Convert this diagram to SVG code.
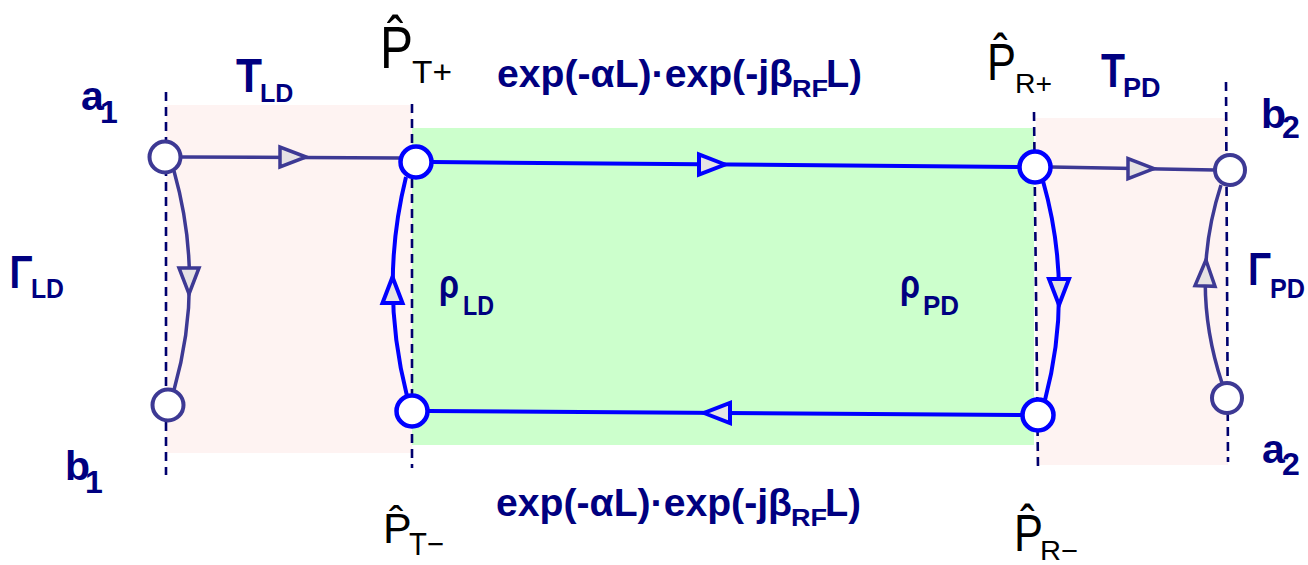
<svg xmlns="http://www.w3.org/2000/svg" width="1308" height="565" viewBox="0 0 1308 565">
<style>
.bg-pink{fill:#fef3f2}
.bg-green{fill:#ccffcc}
.guide{stroke:#00006e;stroke-width:2.6;stroke-dasharray:9 6;fill:none}
.c-dark{stroke:#3d3994;stroke-width:3.5;fill:none}
.c-blue{stroke:#0000ff;stroke-width:4;fill:none}
.n-dark{fill:#fff;stroke:#3d3994;stroke-width:4}
.n-blue{fill:#fff;stroke:#0000ff;stroke-width:4.5}
.a-dark{fill:#e6e2e4;stroke:#3d3994;stroke-width:3.5}
.a-blue{fill:#e6e2e4;stroke:#0000ff;stroke-width:4}
.lbl{font-family:"Liberation Sans",Arial,sans-serif;font-weight:bold;fill:#000080}
.pl{font-family:"Liberation Sans",Arial,sans-serif;fill:#000}
</style>
<defs>
<path id="tri" d="M13,0 L-13,-10 L-13,10 Z"/>
</defs>

<g id="regions">
<rect x="166" y="105" width="246" height="348" class="bg-pink"/>
<rect x="412" y="128" width="622" height="317" class="bg-green"/>
<rect x="1036" y="118" width="192" height="347" class="bg-pink"/>
</g>

<g id="guides">
<path class="guide" d="M166,92 V475"/>
<path class="guide" d="M412,104 V468"/>
<path class="guide" d="M1034,112 L1038,468"/>
<path class="guide" d="M1226,82 L1228,462"/>
</g>

<g id="connectors">
<path class="c-dark" d="M181,157 L400,158"/>
<path class="c-blue" d="M432,162 L1019,167"/>
<path class="c-dark" d="M1051,167 L1215,170"/>
<path class="c-blue" d="M1022,415 L428,411"/>
<path class="c-dark" d="M174,171 Q205,281 174,390"/>
<path class="c-blue" d="M407,396 Q379,286 406,177"/>
<path class="c-blue" d="M1043,181 Q1074,290 1045,400"/>
<path class="c-dark" d="M1222,383 Q1189,284 1221,185"/>
<use href="#tri" class="a-dark" transform="translate(293,157)"/>
<use href="#tri" class="a-blue" transform="translate(712,164.5)"/>
<use href="#tri" class="a-dark" transform="translate(1141,168.6)"/>
<use href="#tri" class="a-blue" transform="translate(717,413) rotate(180)"/>
<use href="#tri" class="a-dark" transform="translate(189,281) rotate(90)"/>
<use href="#tri" class="a-blue" transform="translate(392.5,290) rotate(-90)"/>
<use href="#tri" class="a-blue" transform="translate(1059,292) rotate(90)"/>
<use href="#tri" class="a-dark" transform="translate(1205.5,273) rotate(-88)"/>
</g>

<g id="connector-labels">
<text class="lbl"><tspan x="236" y="92" font-size="48" textLength="26" lengthAdjust="spacingAndGlyphs">T</tspan><tspan x="260" y="102" font-size="25">LD</tspan></text>
<text class="lbl"><tspan x="1101" y="87" font-size="48" textLength="24" lengthAdjust="spacingAndGlyphs">T</tspan><tspan x="1123" y="97" font-size="27">PD</tspan></text>
<text class="lbl"><tspan x="9.5" y="288" font-size="47" textLength="23" lengthAdjust="spacingAndGlyphs">Γ</tspan><tspan x="31" y="298" font-size="28" textLength="33" lengthAdjust="spacingAndGlyphs">LD</tspan></text>
<text class="lbl"><tspan x="1248" y="285" font-size="46" textLength="23" lengthAdjust="spacingAndGlyphs">Γ</tspan><tspan x="1270" y="298" font-size="28" textLength="35" lengthAdjust="spacingAndGlyphs">PD</tspan></text>
<text class="lbl"><tspan x="439" y="298" font-size="40" textLength="20" lengthAdjust="spacingAndGlyphs">ρ</tspan><tspan x="463" y="315" font-size="28" textLength="31" lengthAdjust="spacingAndGlyphs">LD</tspan></text>
<text class="lbl"><tspan x="900" y="298" font-size="40" textLength="20" lengthAdjust="spacingAndGlyphs">ρ</tspan><tspan x="923" y="315" font-size="28" textLength="36" lengthAdjust="spacingAndGlyphs">PD</tspan></text>
<text class="lbl" font-size="38"><tspan x="497" y="87" textLength="296" lengthAdjust="spacingAndGlyphs">exp(-αL)·exp(-jβ</tspan><tspan x="792" y="97" font-size="24" textLength="36" lengthAdjust="spacingAndGlyphs">RF</tspan><tspan x="826" y="87">L)</tspan></text>
<text class="lbl" font-size="38"><tspan x="496" y="516" textLength="296" lengthAdjust="spacingAndGlyphs">exp(-αL)·exp(-jβ</tspan><tspan x="791" y="526" font-size="24" textLength="36" lengthAdjust="spacingAndGlyphs">RF</tspan><tspan x="825" y="516">L)</tspan></text>
</g>

<g id="node-a1">
<circle class="n-dark" cx="165" cy="157" r="15.5"/>
<text class="lbl"><tspan x="81" y="110" font-size="41">a</tspan><tspan x="100" y="123" font-size="32">1</tspan></text>
</g>
<g id="node-b1">
<circle class="n-dark" cx="168" cy="405" r="15.5"/>
<text class="lbl"><tspan x="65" y="480" font-size="41">b</tspan><tspan x="85" y="493" font-size="32">1</tspan></text>
</g>
<g id="node-PT-plus">
<circle class="n-blue" cx="416" cy="162" r="15.5"/>
<text class="pl"><tspan x="380" y="68" font-size="60" textLength="33" lengthAdjust="spacingAndGlyphs">P̂</tspan><tspan x="412" y="83" font-size="32" textLength="40" lengthAdjust="spacingAndGlyphs">T+</tspan></text>
</g>
<g id="node-PT-minus">
<circle class="n-blue" cx="412" cy="411" r="15.5"/>
<text class="pl"><tspan x="383" y="543" font-size="43">P̂</tspan><tspan x="409" y="555" font-size="32" textLength="35" lengthAdjust="spacingAndGlyphs">T−</tspan></text>
</g>
<g id="node-PR-plus">
<circle class="n-blue" cx="1035" cy="167" r="15.5"/>
<text class="pl"><tspan x="987" y="80" font-size="52" textLength="29" lengthAdjust="spacingAndGlyphs">P̂</tspan><tspan x="1015" y="93" font-size="28" textLength="37" lengthAdjust="spacingAndGlyphs">R+</tspan></text>
</g>
<g id="node-PR-minus">
<circle class="n-blue" cx="1038" cy="415" r="15.5"/>
<text class="pl"><tspan x="1014" y="551" font-size="52" textLength="29" lengthAdjust="spacingAndGlyphs">P̂</tspan><tspan x="1040" y="560" font-size="28" textLength="38" lengthAdjust="spacingAndGlyphs">R−</tspan></text>
</g>
<g id="node-b2">
<circle class="n-dark" cx="1230" cy="170" r="15"/>
<text class="lbl"><tspan x="1261" y="128" font-size="41">b</tspan><tspan x="1282" y="138" font-size="32">2</tspan></text>
</g>
<g id="node-a2">
<circle class="n-dark" cx="1227" cy="398" r="15"/>
<text class="lbl"><tspan x="1262" y="463" font-size="41">a</tspan><tspan x="1282" y="475" font-size="32">2</tspan></text>
</g>
</svg>
